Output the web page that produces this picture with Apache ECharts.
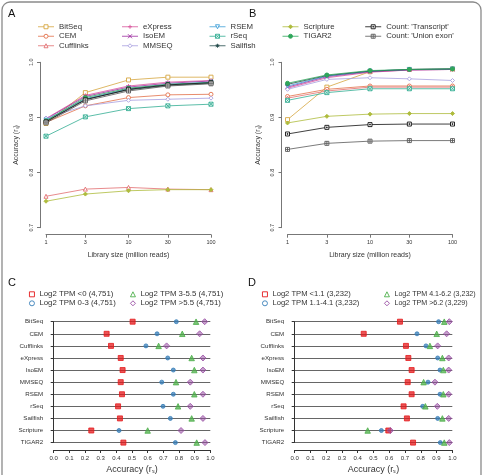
<!DOCTYPE html>
<html><head><meta charset="utf-8">
<script src="https://cdn.jsdelivr.net/npm/echarts@6/dist/echarts.min.js"></script>
<style>html,body{margin:0;padding:0;background:#fff}#c{width:484px;height:475px}</style>
</head><body><div id="c"></div>
<script>
// ---------- data ----------
const sizes = [1, 3, 10, 30, 100];
const sizeTicks = [1, 3, 10, 30, 100];

const methodNames = ['BitSeq','CEM','Cufflinks','eXpress','IsoEM','MMSEQ','RSEM','rSeq','Sailfish','Scripture','TIGAR2',"Count: 'Transcript'","Count: 'Union exon'"];

// Panel A
const A_BitSeq    = [0.889, 0.945, 0.968, 0.973, 0.973];
const A_CEM       = [0.891, 0.921, 0.936, 0.941, 0.942];
const A_Cufflinks = [0.757, 0.770, 0.773, 0.770, 0.769];
const A_eXpress   = [0.898, 0.940, 0.957, 0.964, 0.967];
const A_IsoEM     = [0.897, 0.938, 0.955, 0.962, 0.966];
const A_MMSEQ     = [0.899, 0.921, 0.931, 0.933, 0.935];
const A_RSEM      = [0.895, 0.934, 0.952, 0.960, 0.964];
const A_rSeq      = [0.866, 0.901, 0.916, 0.921, 0.924];
const A_Sailfish  = [0.893, 0.933, 0.950, 0.958, 0.962];
const A_Scripture = [0.748, 0.761, 0.767, 0.769, 0.769];
const A_TIGAR2    = [0.894, 0.936, 0.953, 0.960, 0.963];
const A_CountTr   = [0.892, 0.932, 0.951, 0.959, 0.963];
const A_CountUe   = [0.890, 0.930, 0.948, 0.957, 0.961];

// Panel B
const B_BitSeq    = [0.896, 0.955, 0.983, 0.987, 0.988];
const B_CEM       = [0.938, 0.951, 0.957, 0.957, 0.957];
const B_Cufflinks = [0.935, 0.948, 0.955, 0.955, 0.955];
const B_eXpress   = [0.953, 0.972, 0.982, 0.986, 0.987];
const B_IsoEM     = [0.955, 0.974, 0.983, 0.986, 0.987];
const B_MMSEQ     = [0.951, 0.969, 0.972, 0.970, 0.967];
const B_RSEM      = [0.957, 0.975, 0.984, 0.987, 0.988];
const B_rSeq      = [0.931, 0.945, 0.952, 0.952, 0.952];
const B_Sailfish  = [0.960, 0.976, 0.984, 0.987, 0.988];
const B_Scripture = [0.890, 0.902, 0.906, 0.907, 0.907];
const B_TIGAR2    = [0.962, 0.977, 0.985, 0.987, 0.988];
const B_CountTr   = [0.870, 0.882, 0.887, 0.888, 0.888];
const B_CountUe   = [0.842, 0.853, 0.857, 0.858, 0.858];

// Panels C & D
const dotCategories = ['BitSeq','CEM','Cufflinks','eXpress','IsoEM','MMSEQ','RSEM','rSeq','Sailfish','Scripture','TIGAR2'];

const C_names = ['Log2 TPM <0 (4,751)','Log2 TPM 0-3 (4,751)','Log2 TPM 3-5.5 (4,751)','Log2 TPM >5.5 (4,751)'];
const C_g1 = [0.504, 0.338, 0.366, 0.428, 0.440, 0.428, 0.436, 0.411, 0.423, 0.240, 0.445];
const C_g2 = [0.783, 0.660, 0.589, 0.728, 0.764, 0.690, 0.764, 0.698, 0.745, 0.417, 0.777];
const C_g3 = [0.909, 0.821, 0.670, 0.881, 0.898, 0.781, 0.898, 0.794, 0.881, 0.600, 0.913];
const C_g4 = [0.964, 0.932, 0.721, 0.953, 0.953, 0.872, 0.953, 0.872, 0.953, 0.813, 0.966];

const D_names = ['Log2 TPM <1.1 (3,232)','Log2 TPM 1.1-4.1 (3,232)','Log2 TPM 4.1-6.2 (3,232)','Log2 TPM >6.2 (3,229)'];
const D_g1 = [0.668, 0.438, 0.706, 0.721, 0.742, 0.717, 0.742, 0.691, 0.712, 0.594, 0.751];
const D_g2 = [0.913, 0.776, 0.833, 0.907, 0.922, 0.846, 0.922, 0.812, 0.907, 0.550, 0.924];
const D_g3 = [0.949, 0.901, 0.858, 0.937, 0.943, 0.818, 0.943, 0.829, 0.937, 0.463, 0.949];
const D_g4 = [0.981, 0.964, 0.907, 0.977, 0.977, 0.890, 0.977, 0.905, 0.977, 0.607, 0.981];

// ---------- styles ----------
const FONT = '"Liberation Sans", Arial, sans-serif';
const mColors = ['#D6A640','#E2714A','#E26E70','#D8559C','#9E2FA0','#A89FE0','#3F9FD8','#33AE93','#244B4B','#AEBB3C','#2FA65A','#111111','#5A5A5A'];
const P_PLUS = 'path://M5,0L5,10M0,5L10,5';
const P_X = 'path://M0,0L10,10M10,0L0,10';
const P_BOXX = 'path://M0,0L10,0L10,10L0,10Z M0,0L10,10M10,0L0,10';
const P_STAR = 'path://M5,0L5,10M0,5L10,5M1.5,1.5L8.5,8.5M8.5,1.5L1.5,8.5';
const P_BOXPLUS = 'path://M0,0L10,0L10,10L0,10Z M5,0L5,10M0,5L10,5';
const P_BOXDOT = 'path://M0,0L10,0L10,10L0,10Z M4,4L6,4L6,6L4,6Z';
const mSymbols = ['rect','circle','triangle',P_PLUS,P_X,'diamond','triangle',P_BOXX,P_STAR,'diamond','circle',P_BOXDOT,P_BOXPLUS];
const mRotate  = [0,0,0,0,0,0,180,0,0,0,0,0,0];
const mFilled  = [false,false,false,false,false,false,false,false,false,true,true,false,false];
const dotColors = ['#E41A1C','#377EB8','#4DAF4A','#984EA3'];
const dotFill = ['rgba(228,26,28,0.75)','rgba(55,126,184,0.75)','rgba(77,175,74,0.75)','rgba(152,78,163,0.55)'];
const dotSymbols = ['rect','circle','triangle','diamond'];
const dotSizes = [5, 4, 5.5, 6];

const panelA = [A_BitSeq,A_CEM,A_Cufflinks,A_eXpress,A_IsoEM,A_MMSEQ,A_RSEM,A_rSeq,A_Sailfish,A_Scripture,A_TIGAR2,A_CountTr,A_CountUe];
const panelB = [B_BitSeq,B_CEM,B_Cufflinks,B_eXpress,B_IsoEM,B_MMSEQ,B_RSEM,B_rSeq,B_Sailfish,B_Scripture,B_TIGAR2,B_CountTr,B_CountUe];
const panelC = [C_g1,C_g2,C_g3,C_g4];
const panelD = [D_g1,D_g2,D_g3,D_g4];

const axisGray = '#777';
const textGray = '#333';

function lineSeries(idx, arr, p) {
  const c = mColors[idx];
  return {
    type: 'line', name: methodNames[idx], xAxisIndex: p, yAxisIndex: p,
    data: sizes.map((s, i) => [s, arr[i]]),
    symbol: mSymbols[idx], symbolSize: 4, symbolRotate: mRotate[idx], showAllSymbol: true,
    lineStyle: { color: c, width: 1, opacity: 0.8 },
    itemStyle: { color: mFilled[idx] ? c : '#fff', borderColor: c, borderWidth: 0.9 },
    emphasis: { disabled: true }, z: 3 + idx * 0.01
  };
}
function dotSeries(g, arr, names, p) {
  return {
    type: 'scatter', name: names[g], xAxisIndex: p, yAxisIndex: p,
    data: dotCategories.map((c, i) => [arr[i], c]),
    symbol: dotSymbols[g], symbolSize: dotSizes[g],
    itemStyle: { color: dotFill[g], borderColor: dotColors[g], borderWidth: 0.8, opacity: 1 },
    emphasis: { disabled: true }, z: 5
  };
}

function xAxisAB(grid) {
  return {
    type: 'log', logBase: 10, min: 1, max: 100, gridIndex: grid, position: 'bottom', offset: 7,
    axisLine: { show: true, lineStyle: { color: axisGray, width: 1 } },
    axisTick: { show: true, length: 3, customValues: sizeTicks, lineStyle: { color: axisGray } },
    axisLabel: { customValues: sizeTicks, fontSize: 5.5, margin: 5, color: textGray, fontFamily: FONT },
    minorTick: { show: false }, splitLine: { show: false },
    name: 'Library size (million reads)', nameLocation: 'middle', nameGap: 17,
    nameTextStyle: { fontSize: 7, color: textGray, fontFamily: FONT }
  };
}
function yAxisAB(grid) {
  return {
    type: 'value', min: 0.7, max: 1.0, interval: 0.1, gridIndex: grid, offset: 6,
    axisLine: { show: true, lineStyle: { color: axisGray, width: 1 } },
    axisTick: { show: true, length: 3, lineStyle: { color: axisGray } },
    axisLabel: { rotate: 90, fontSize: 5.5, margin: 6, color: textGray, fontFamily: FONT, formatter: v => v.toFixed(1) },
    splitLine: { show: false },
    name: 'Accuracy (r\u209B)', nameLocation: 'middle', nameGap: 20, nameRotate: 90,
    nameTextStyle: { fontSize: 7, color: textGray, fontFamily: FONT }
  };
}
function xAxisCD(grid) {
  return {
    type: 'value', min: 0, max: 1, interval: 0.1, gridIndex: grid, position: 'bottom', offset: 7.4,
    axisLine: { show: true, lineStyle: { color: '#333', width: 1 } },
    axisTick: { show: true, length: 3, lineStyle: { color: '#333' } },
    axisLabel: { fontSize: 6, margin: 5, color: textGray, fontFamily: FONT, formatter: v => v.toFixed(1) },
    splitLine: { show: false },
    name: 'Accuracy (r\u209B)', nameLocation: 'middle', nameGap: 15,
    nameTextStyle: { fontSize: 9, color: textGray, fontFamily: FONT }
  };
}
function yAxisCD(grid) {
  return {
    type: 'category', data: dotCategories, inverse: true, boundaryGap: false, gridIndex: grid, offset: 5.5,
    axisLine: { show: true, lineStyle: { color: '#333', width: 1 } },
    axisTick: { show: true, length: 3, lineStyle: { color: '#333' } },
    axisLabel: { fontSize: 6.2, margin: 5, color: textGray, fontFamily: FONT, interval: 0 },
    splitLine: { show: true, interval: 0, lineStyle: { color: '#666', width: 1.2 } }
  };
}

function methodLegend(idxs, left, top) {
  return {
    orient: 'vertical', left, top, itemWidth: 16, itemHeight: 5, itemGap: 0, padding: 0,
    selectedMode: false,
    data: idxs.map(i => ({
      name: methodNames[i],
      itemStyle: { color: mFilled[i] ? mColors[i] : '#fff', borderColor: mColors[i], borderWidth: 0.9 },
      lineStyle: { color: mColors[i], width: 1 }
    })),
    textStyle: { fontSize: 7.8, color: textGray, fontFamily: FONT, lineHeight: 9.5 }
  };
}
function dotLegend(names, g0, left, top, fs) {
  return {
    orient: 'vertical', left, top, itemWidth: 5, itemHeight: 5, itemGap: 0, padding: 0,
    selectedMode: false,
    data: [g0, g0 + 1].map(g => ({ name: names[g], itemStyle: { color: '#fff', borderColor: dotColors[g], borderWidth: 0.9 } })),
    textStyle: { fontSize: fs, color: textGray, fontFamily: FONT, lineHeight: 9 }
  };
}

const series = [];
panelA.forEach((arr, i) => series.push(lineSeries(i, arr, 0)));
panelB.forEach((arr, i) => series.push(lineSeries(i, arr, 1)));
panelC.forEach((arr, g) => series.push(dotSeries(g, arr, C_names, 2)));
panelD.forEach((arr, g) => series.push(dotSeries(g, arr, D_names, 3)));

const option = {
  animation: false,
  backgroundColor: '#fff',
  textStyle: { fontFamily: FONT },
  grid: [
    { left: 46, top: 62.3, width: 165, height: 165.4 },
    { left: 287.5, top: 62.3, width: 165, height: 165.4 },
    { left: 53.7, top: 321.7, width: 156.6, height: 122.6 },
    { left: 294.7, top: 321.7, width: 157.6, height: 122.6 }
  ],
  xAxis: [xAxisAB(0), xAxisAB(1), xAxisCD(2), xAxisCD(3)],
  yAxis: [yAxisAB(0), yAxisAB(1), yAxisCD(2), yAxisCD(3)],
  legend: [
    methodLegend([0,1,2], 37.5, 22),
    methodLegend([3,4,5], 121.5, 22),
    methodLegend([6,7,8], 209, 22),
    methodLegend([9,10], 282, 22),
    methodLegend([11,12], 364.7, 22),
    dotLegend(C_names, 0, 29, 289.8, 7.8),
    dotLegend(C_names, 2, 130, 289.8, 7.8),
    dotLegend(D_names, 0, 262, 289.8, 7.6),
    dotLegend(D_names, 2, 384, 289.8, 7.1)
  ],
  series,
  graphic: [
    { type: 'rect', shape: { x: 2, y: 2, width: 479, height: 490, r: 8 }, style: { fill: 'none', stroke: '#8a8a8a', lineWidth: 1.3 }, silent: true },
    { type: 'text', left: 8, top: 8, style: { text: 'A', fontSize: 11, fill: '#111', fontFamily: FONT } },
    { type: 'text', left: 249, top: 8, style: { text: 'B', fontSize: 11, fill: '#111', fontFamily: FONT } },
    { type: 'text', left: 8, top: 277, style: { text: 'C', fontSize: 11, fill: '#111', fontFamily: FONT } },
    { type: 'text', left: 248, top: 277, style: { text: 'D', fontSize: 11, fill: '#111', fontFamily: FONT } }
  ]
};

const chart = echarts.init(document.getElementById('c'), null, { renderer: 'canvas' });
chart.setOption(option);
</script>
</body></html>
